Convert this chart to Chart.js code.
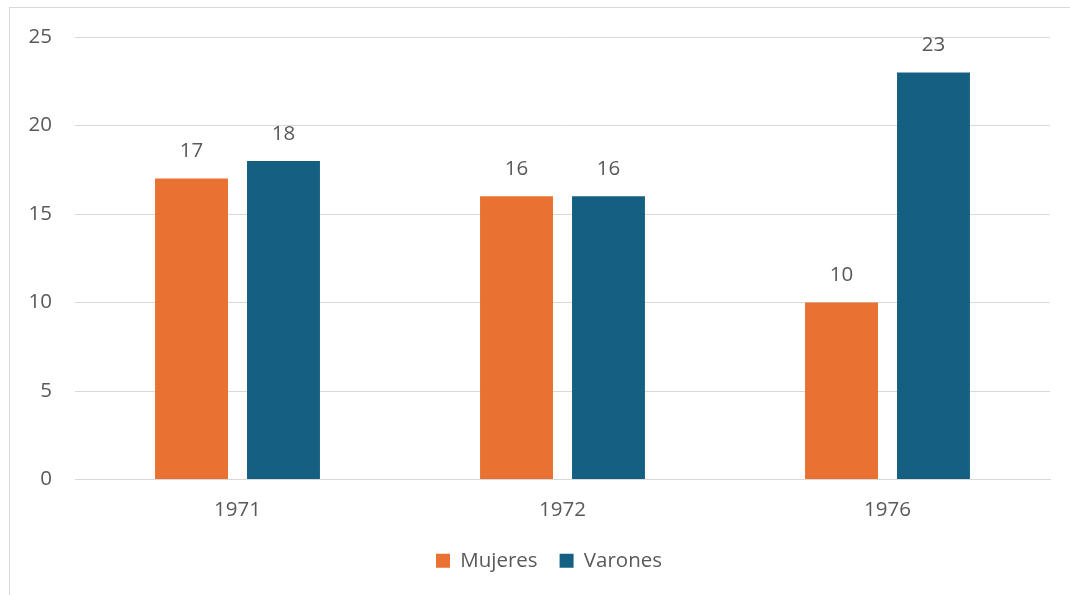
<!DOCTYPE html>
<html>
<head>
<meta charset="utf-8">
<script src="https://cdn.jsdelivr.net/npm/chart.js@4.4.1/dist/chart.umd.min.js"></script>
<style>
  html, body { margin: 0; padding: 0; background: #ffffff; }
  #wrap { position: relative; width: 1070px; height: 595px; overflow: hidden; }
  #frame { position: absolute; left: 9px; top: 7px; width: 1080px; height: 600px;
           border: 1px solid #d9d9d9; box-sizing: border-box; }
  #chart { position: absolute; left: 0; top: 0; }
</style>
</head>
<body>
<div id="wrap">
  <div id="frame"></div>
  <canvas id="chart" width="1070" height="595"></canvas>
</div>
<script>
// Years on the category axis
const years = ['1971', '1972', '1976'];
// Counts per group
const mujeres = [17, 16, 10];
const varones = [18, 16, 23];
// Value axis ticks
const yTicks = [0, 5, 10, 15, 20, 25];

const textColor = '#595959';
const gridColor = '#d9d9d9';
const fontFamily = '"Open Sans", "Liberation Sans", sans-serif';
const fontSize = 20.5;

// Writes each bar's value above it
const valueLabels = {
  id: 'valueLabels',
  afterDatasetsDraw(chart) {
    const ctx = chart.ctx;
    ctx.save();
    ctx.font = fontSize + 'px ' + fontFamily;
    ctx.fillStyle = textColor;
    ctx.textAlign = 'center';
    ctx.textBaseline = 'middle';
    chart.data.datasets.forEach((ds, i) => {
      chart.getDatasetMeta(i).data.forEach((bar, j) => {
        ctx.fillText(String(ds.data[j]), bar.x, bar.y - 27);
      });
    });
    ctx.restore();
  }
};

// Nudges the legend a little to the right of the canvas centre
const legendShift = {
  id: 'legendShift',
  afterLayout(chart) {
    if (chart.legend) {
      chart.legend.left += 24;
      chart.legend.right += 24;
    }
  }
};

new Chart(document.getElementById('chart'), {
  type: 'bar',
  data: {
    labels: years,
    datasets: [
      { label: 'Mujeres', data: mujeres, backgroundColor: '#E97132' },
      { label: 'Varones', data: varones, backgroundColor: '#156082' }
    ]
  },
  options: {
    responsive: false,
    animation: false,
    categoryPercentage: 0.566,
    barPercentage: 0.793,
    layout: { padding: { top: 37, right: 20, bottom: 14, left: 0 } },
    scales: {
      x: {
        grid: { display: false, drawTicks: false },
        border: { display: true, color: gridColor },
        ticks: { color: textColor, font: { family: fontFamily, size: fontSize }, padding: 18 },
        afterFit(scale) { scale.height = 49; }
      },
      y: {
        min: 0, max: 25,
        afterBuildTicks(scale) { scale.ticks = yTicks.map(v => ({ value: v })); },
        grid: { color: gridColor, drawTicks: false },
        border: { display: false },
        ticks: { color: textColor, font: { family: fontFamily, size: fontSize }, padding: 23 },
        afterFit(scale) { scale.width = 75; }
      }
    },
    plugins: {
      tooltip: { enabled: false },
      legend: {
        position: 'bottom',
        labels: {
          color: textColor,
          font: { family: fontFamily, size: fontSize },
          boxWidth: 14, boxHeight: 14, padding: 22
        }
      }
    }
  },
  plugins: [legendShift, valueLabels]
});
</script>
</body>
</html>
